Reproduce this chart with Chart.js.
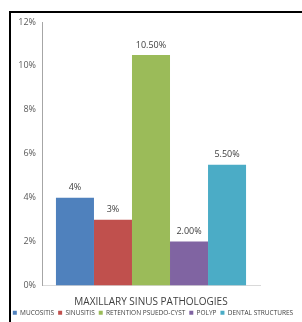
<!DOCTYPE html>
<html>
<head>
<meta charset="utf-8">
<script src="https://cdn.jsdelivr.net/npm/chart.js@4.4.0/dist/chart.umd.min.js"></script>
<style>
  html, body { margin: 0; padding: 0; background: #fff; }
  #wrap { width: 302px; height: 322px; position: relative; }
</style>
</head>
<body>
<div id="wrap"><canvas id="chart" width="302" height="322"></canvas></div>
<script>
const categories = ['MUCOSITIS', 'SINUSITIS', 'RETENTION PSUEDO-CYST', 'POLYP', 'DENTAL STRUCTURES'];
const values = [4, 3, 10.5, 2, 5.5];
const valueLabels = ['4%', '3%', '10.50%', '2.00%', '5.50%'];
const tickValues = [0, 2, 4, 6, 8, 10, 12];
const axisTitle = 'MAXILLARY SINUS PATHOLOGIES';
const colors = ['#4f81bd', '#c0504d', '#9bbb59', '#8064a2', '#4bacc6'];

const FONT = "'Open Sans', 'Liberation Sans', sans-serif";

// frame round the chart (left + top only visible)
const framePlugin = {
  id: 'frame',
  afterDraw(chart) {
    const ctx = chart.ctx;
    ctx.save();
    ctx.strokeStyle = '#000';
    ctx.lineWidth = 2;
    ctx.beginPath();
    ctx.moveTo(10, 322);
    ctx.lineTo(10, 12);
    ctx.lineTo(302, 12);
    ctx.stroke();
    ctx.restore();
  }
};

// value labels above each bar
const labelPlugin = {
  id: 'valueLabels',
  afterDatasetsDraw(chart) {
    const ctx = chart.ctx;
    ctx.save();
    ctx.font = '9px ' + FONT;
    ctx.fillStyle = '#404040';
    ctx.textAlign = 'center';
    ctx.textBaseline = 'middle';
    chart.data.datasets.forEach((ds, i) => {
      const bar = chart.getDatasetMeta(i).data[0];
      ctx.fillText(valueLabels[i], bar.x, bar.y - 10);
    });
    ctx.restore();
  }
};

new Chart(document.getElementById('chart'), {
  type: 'bar',
  data: {
    labels: [''],
    datasets: categories.map((c, i) => ({
      label: c,
      data: [values[i]],
      backgroundColor: colors[i],
      borderWidth: 0,
      barPercentage: 1,
      categoryPercentage: 0.872
    }))
  },
  options: {
    responsive: false,
    animation: false,
    layout: { padding: { left: 4, right: 0, top: 22, bottom: -4 } },
    plugins: {
      legend: {
        position: 'bottom',
        labels: {
          boxWidth: 4,
          boxHeight: 4,
          padding: 4,
          color: '#404040',
          font: { family: FONT, size: 6.5 }
        }
      },
      tooltip: { enabled: false }
    },
    scales: {
      x: {
        grid: { display: false, drawTicks: false },
        border: { color: '#d9d9d9' },
        ticks: { display: false },
        title: {
          display: true,
          text: axisTitle,
          color: '#404040',
          font: { family: FONT, size: 10 },
          padding: { top: 11, bottom: -3 }
        }
      },
      y: {
        min: 0,
        max: 12,
        afterBuildTicks: (axis) => { axis.ticks = tickValues.map(v => ({ value: v })); },
        afterFit: (axis) => { axis.width = 38; },
        grid: { display: false, drawTicks: false },
        border: { color: '#a6a6a6' },
        ticks: {
          color: '#595959',
          font: { family: FONT, size: 9 },
          padding: 6,
          callback: (v) => v + '%'
        }
      },
      yRight: {
        position: 'right',
        min: 0,
        max: 12,
        afterFit: (axis) => { axis.width = 42; },
        grid: { display: false },
        border: { display: false },
        ticks: { display: false }
      }
    }
  },
  plugins: [framePlugin, labelPlugin]
});
</script>
</body>
</html>
